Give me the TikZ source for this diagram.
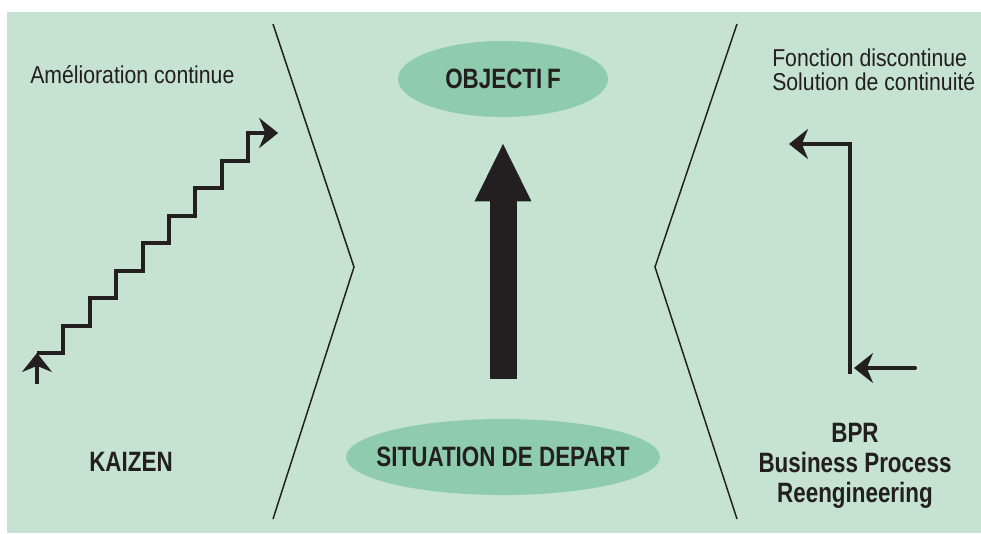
\documentclass[tikz,border=0pt]{standalone}
\usepackage{fontspec}
\setmainfont{Liberation Sans}[FakeStretch=0.87]
\newfontfamily\boldcond{Liberation Sans}[FakeStretch=0.8]
\usetikzlibrary{arrows.meta, shapes.geometric}

\definecolor{panel_green}{HTML}{C5E2D3}
\definecolor{oval_green}{HTML}{8FCBAE}
\definecolor{ink}{HTML}{231F20}

\begin{document}
\begin{tikzpicture}[
    x=0.75pt, y=-0.75pt,
    every node/.style={inner sep=0pt, text=ink},
    label_text/.style={font=\fontsize{18.3pt}{18pt}\selectfont},
    title_text/.style={font=\boldcond\bfseries\fontsize{21pt}{22.5pt}\selectfont},
    oval/.style={ellipse, fill=oval_green, minimum height=57pt},
    divider/.style={draw=ink, line width=1.1pt},
    stair_arrow/.style={draw=ink, line width=3pt, -{Stealth[length=14.25pt, width=22.5pt]}},
    big_arrow/.style={draw=ink, line width=20.25pt, -{Triangle[length=44.25pt, width=39pt]}},
    ]

    \useasboundingbox (0,0) rectangle (981,533);
    \fill[panel_green] (7,12) rectangle (981,533);

    % --- Dividers ---
    \draw[divider] (273,24) -- (354,267) -- (273,519);
    \draw[divider] (737,24) -- (655,267) -- (737,519);

    % --- Centre ---
    \node[oval, minimum width=157.5pt,
        label={[title_text]center:OBJECTI\,F}] (objectif) at (503,79) {};
    \node[oval, minimum width=235.5pt,
        label={[title_text]center:SITUATION DE DEPART}] (depart) at (503,457) {};
    \draw[big_arrow, shorten <=30pt, shorten >=18.75pt] (depart) -- (objectif);

    % --- Kaizen ---
    \node[label_text, anchor=base west] (improve_label) at (30,83) {Amélioration continue};
    \node[title_text] (kaizen) at (131,462) {KAIZEN};
    \coordinate (up_foot) at (37,384);
    \coordinate (stairs_start) at (37,353);
    \draw[stair_arrow] (up_foot) -- (stairs_start);
    \draw[stair_arrow] (stairs_start) \foreach \s in {1,...,8} { -- ++(26.4,0) -- ++(0,-27.5) } -- ++(30,0);

    % --- BPR ---
    \node[label_text, anchor=north west, align=left] (break_label) at (772,49) {Fonction discontinue\\Solution de continuité};
    \node[title_text, align=center, anchor=north] (bpr) at (855,423) {BPR\\Business Process\\Reengineering};
    \coordinate (jump_start) at (850,374);
    \coordinate (jump_corner) at (850,144);
    \coordinate (jump_end) at (789,144);
    \coordinate (push_start) at (915,368);
    \coordinate (push_end) at (854,368);
    \draw[stair_arrow] (jump_start) -- (jump_corner) -- (jump_end);
    \draw[stair_arrow, line cap=round] (push_start) -- (push_end);

\end{tikzpicture}
\end{document}
